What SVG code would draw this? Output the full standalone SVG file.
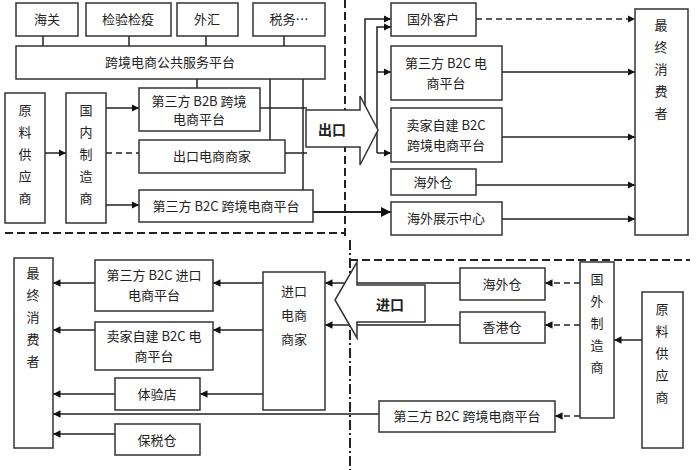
<svg xmlns="http://www.w3.org/2000/svg" width="700" height="470" viewBox="0 0 700 470">
<defs>
<marker id="a" viewBox="0 0 10 10" refX="10" refY="5" markerWidth="5" markerHeight="5" orient="auto"><path d="M0,0 L10,5 L0,10 z" fill="#111"/></marker>
<style>
rect{fill:#fff;stroke:#333;stroke-width:1.5}
text{font-family:"Noto Sans CJK SC","Liberation Serif",serif;font-size:13px;fill:#222;text-anchor:middle}
.c line,.c path{stroke:#222;stroke-width:1.5;fill:none}
.ar{marker-end:url(#a)}
.d{stroke-dasharray:6 4}
.b{stroke:#222;stroke-width:2;fill:none;stroke-dasharray:8 4}
</style>
</defs>
<rect width="700" height="470" style="fill:#fff;stroke:none"/>
<line class="b" x1="345" y1="0" x2="345" y2="240"/>
<line class="b" x1="5" y1="233" x2="345" y2="233"/>
<line class="b" x1="350" y1="240" x2="350" y2="470" style="stroke-dasharray:10 3 2 3"/>
<line class="b" x1="350" y1="260" x2="690" y2="260"/>
<g class="c">
<line x1="43" y1="36" x2="43" y2="46"/><line x1="129" y1="36" x2="129" y2="46"/><line x1="206" y1="36" x2="206" y2="46"/><line x1="284" y1="36" x2="284" y2="46"/>
<line x1="197" y1="79" x2="197" y2="88"/><line x1="270" y1="79" x2="270" y2="140"/><line x1="303" y1="79" x2="303" y2="190"/>
<line class="ar" x1="45" y1="153" x2="66" y2="153"/>
<line class="ar" x1="106" y1="108" x2="139" y2="108"/>
<line class="ar" x1="106" y1="205" x2="139" y2="205"/>
<line class="d" x1="106" y1="153" x2="139" y2="153"/>
<line x1="260" y1="108" x2="307" y2="108"/>
<line x1="285" y1="153" x2="307" y2="153"/>
<path class="ar" d="M313,212 H365 V212 H391" style="stroke-width:2"/>
<path class="ar" d="M365,130 V19 H391"/>
<path class="ar" d="M377,153 V27 H391"/>
<line class="ar" x1="377" y1="72" x2="391" y2="72"/>
<line class="ar" x1="377" y1="153" x2="391" y2="153"/>
<line class="ar d" x1="476" y1="19" x2="635" y2="19"/>
<line class="ar" x1="502" y1="72" x2="635" y2="72"/>
<line class="ar" x1="502" y1="137" x2="635" y2="137"/>
<line class="ar" x1="476" y1="185" x2="635" y2="185"/>
<line class="ar" x1="502" y1="219" x2="635" y2="219"/>
<line class="ar" x1="460" y1="283" x2="325" y2="283"/>
<line class="ar" x1="460" y1="325" x2="325" y2="325"/>
<line class="ar d" x1="580" y1="283" x2="545" y2="283"/>
<line class="ar d" x1="580" y1="325" x2="545" y2="325"/>
<line class="ar" x1="642" y1="340" x2="614" y2="340"/>
<line class="ar d" x1="580" y1="416" x2="555" y2="416"/>
<line class="ar" x1="379" y1="414" x2="53" y2="414"/>
<line class="ar" x1="263" y1="283" x2="213" y2="283"/>
<line class="ar" x1="263" y1="330" x2="213" y2="330"/>
<line class="ar" x1="263" y1="394" x2="200" y2="394"/>
<line class="ar" x1="95" y1="283" x2="53" y2="283"/>
<line class="ar" x1="95" y1="330" x2="53" y2="330"/>
<line class="ar" x1="115" y1="394" x2="53" y2="394"/>
<line class="ar" x1="115" y1="434" x2="53" y2="434"/>
</g>
<g id="exportArrow"><path d="M306,110 H360 V96 L378,130 L360,165 V147 H306 Z" fill="#fff" stroke="#333" stroke-width="1.5"/><text x="332" y="135" style="font-weight:bold;font-size:14px">出口</text></g>
<g id="importArrow"><path d="M425,285 H357 V262 L335,300 L357,338 V322 H425 Z" fill="#fff" stroke="#333" stroke-width="1.5"/><text x="390" y="310" style="font-weight:bold;font-size:14px">进口</text></g>
<g id="haiguan"><rect x="16" y="3" width="62" height="33"/><text x="47" y="24">海关</text></g>
<g id="jianyan"><rect x="86" y="3" width="85" height="33"/><text x="128" y="24">检验检疫</text></g>
<g id="waihui"><rect x="177" y="3" width="61" height="33"/><text x="207" y="24">外汇</text></g>
<g id="shuiwu"><rect x="253" y="3" width="72" height="33"/><text x="289" y="24">税务…</text></g>
<g id="platform"><rect x="16" y="46" width="309" height="33"/><text x="170" y="67">跨境电商公共服务平台</text></g>
<g id="supplier1"><rect x="5" y="93" width="40" height="130"/><text x="25" y="115">原</text><text x="25" y="137">料</text><text x="25" y="159">供</text><text x="25" y="181">应</text><text x="25" y="203">商</text></g>
<g id="maker1"><rect x="66" y="93" width="40" height="130"/><text x="86" y="115">国</text><text x="86" y="137">内</text><text x="86" y="159">制</text><text x="86" y="181">造</text><text x="86" y="203">商</text></g>
<g id="b2b"><rect x="139" y="88" width="121" height="43"/><text x="199" y="106">第三方 B2B 跨境</text><text x="199" y="124">电商平台</text></g>
<g id="exporter"><rect x="139" y="140" width="146" height="33"/><text x="212" y="161">出口电商商家</text></g>
<g id="b2cx"><rect x="139" y="190" width="174" height="32"/><text x="226" y="211">第三方 B2C 跨境电商平台</text></g>
<g id="customer"><rect x="391" y="3" width="85" height="33"/><text x="433" y="24">国外客户</text></g>
<g id="b2c"><rect x="391" y="46" width="111" height="54"/><text x="446" y="68">第三方 B2C 电</text><text x="446" y="88">商平台</text></g>
<g id="seller"><rect x="391" y="108" width="111" height="54"/><text x="446" y="130">卖家自建 B2C</text><text x="446" y="150">跨境电商平台</text></g>
<g id="ow1"><rect x="391" y="169" width="85" height="26"/><text x="433" y="187">海外仓</text></g>
<g id="show"><rect x="391" y="202" width="111" height="33"/><text x="446" y="223">海外展示中心</text></g>
<g id="consumer1"><rect x="635" y="9" width="53" height="226"/><text x="661" y="30">最</text><text x="661" y="52">终</text><text x="661" y="74">消</text><text x="661" y="96">费</text><text x="661" y="118">者</text></g>
<g id="consumer2"><rect x="14" y="258" width="39" height="190"/><text x="33" y="278">最</text><text x="33" y="300">终</text><text x="33" y="322">消</text><text x="33" y="344">费</text><text x="33" y="366">者</text></g>
<g id="b2cin"><rect x="95" y="260" width="118" height="51"/><text x="154" y="280">第三方 B2C 进口</text><text x="154" y="300">电商平台</text></g>
<g id="seller2"><rect x="95" y="322" width="118" height="48"/><text x="154" y="341">卖家自建 B2C 电</text><text x="154" y="361">商平台</text></g>
<g id="store"><rect x="115" y="378" width="85" height="32"/><text x="157" y="399">体验店</text></g>
<g id="bonded"><rect x="115" y="424" width="85" height="31"/><text x="157" y="445">保税仓</text></g>
<g id="importer"><rect x="263" y="272" width="62" height="138"/><text x="294" y="296">进口</text><text x="294" y="320">电商</text><text x="294" y="344">商家</text></g>
<g id="ow2"><rect x="460" y="268" width="85" height="32"/><text x="502" y="289">海外仓</text></g>
<g id="hk"><rect x="460" y="312" width="85" height="31"/><text x="502" y="332">香港仓</text></g>
<g id="maker2"><rect x="580" y="262" width="34" height="156"/><text x="597" y="284">国</text><text x="597" y="306">外</text><text x="597" y="328">制</text><text x="597" y="350">造</text><text x="597" y="372">商</text></g>
<g id="supplier2"><rect x="642" y="292" width="41" height="156"/><text x="662" y="314">原</text><text x="662" y="336">料</text><text x="662" y="358">供</text><text x="662" y="380">应</text><text x="662" y="402">商</text></g>
<g id="b2cx2"><rect x="379" y="401" width="176" height="31"/><text x="467" y="421">第三方 B2C 跨境电商平台</text></g>
</svg>
